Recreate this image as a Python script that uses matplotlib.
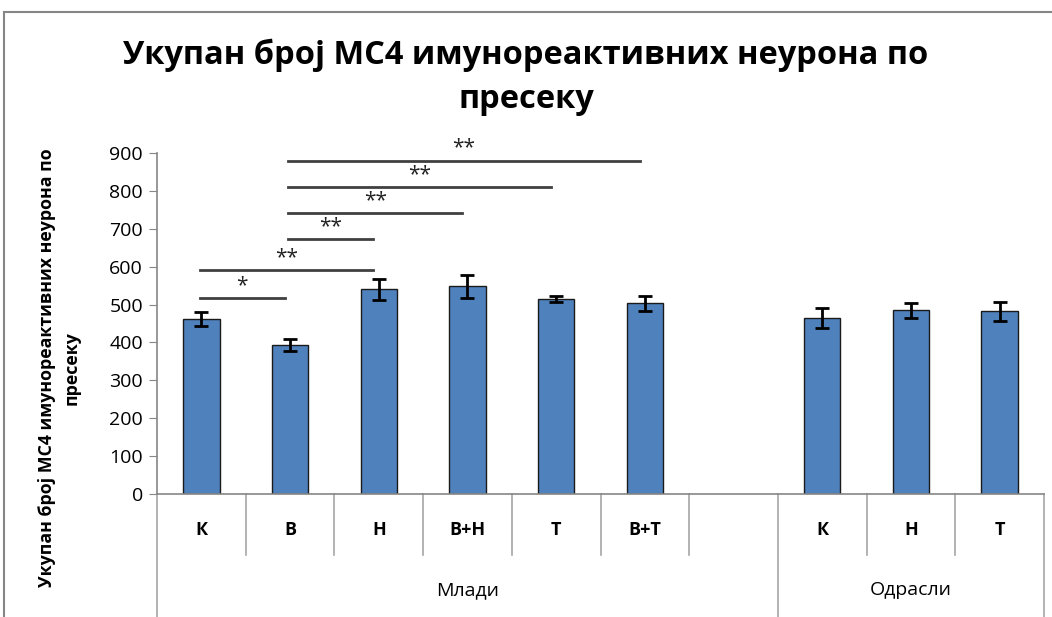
import matplotlib
matplotlib.use("Agg")
import matplotlib.pyplot as plt
from matplotlib.lines import Line2D
from matplotlib.transforms import blended_transform_factory

plt.rcParams['font.family'] = ['Open Sans', 'DejaVu Sans']

# подаци
categories = ["К", "В", "Н", "В+Н", "Т", "В+Т", "", "К", "Н", "Т"]
values = [462, 393, 540, 548, 515, 503, None, 465, 485, 482]
errors = [18, 15, 27, 30, 8, 20, None, 27, 20, 25]
groups = ["Млади", "Одрасли"]
group_spans = [(0, 6), (7, 9)]
# significance: (from, to, height, label)
sig_pairs = [(0, 1, 517, "*"), (0, 2, 591, "**"), (1, 2, 673, "**"),
             (1, 3, 741, "**"), (1, 4, 810, "**"), (1, 5, 879, "**")]
yticks = list(range(0, 901, 100))

W, H = 1052, 617
fig = plt.figure(figsize=(W / 100, H / 100), dpi=100)

# outer chart border
fig.add_artist(Line2D([4 / W, 4 / W], [0, 1 - 12 / H], color="#868686", lw=1.5))
fig.add_artist(Line2D([4 / W, 1], [1 - 12 / H, 1 - 12 / H], color="#868686", lw=1.5))

x0, x1, y0, y1 = 157, 1044, 494, 153
ax = fig.add_axes([x0 / W, 1 - y0 / H, (x1 - x0) / W, (y0 - y1) / H])

xs = [i for i, v in enumerate(values) if v is not None]
vs = [v for v in values if v is not None]
es = [e for e in errors if e is not None]
ax.bar(xs, vs, width=0.41, color="#4F81BD", edgecolor="#1a1a1a", linewidth=1, zorder=2)
ax.errorbar(xs, vs, yerr=es, fmt="none", ecolor="black", elinewidth=2,
            capsize=5, capthick=2, zorder=3)

ax.set_xlim(-0.5, len(categories) - 0.5)
ax.set_ylim(0, 900)
ax.set_yticks(yticks)
ax.tick_params(axis="y", direction="out", length=6, color="#868686", labelsize=14, pad=4)
ax.set_xticks([])
for s in ["top", "right"]:
    ax.spines[s].set_visible(False)
for s in ["left", "bottom"]:
    ax.spines[s].set_color("#868686")
    ax.spines[s].set_linewidth(1.2)

# significance bars
for a, b, h, lab in sig_pairs:
    ax.plot([a - 0.02, b - 0.06], [h, h], color="#404040", lw=2, zorder=4, clip_on=False)
    ax.text((a + b) / 2 - 0.04, h + 6, lab, ha="center", va="bottom", fontsize=15,
            color="#222222", clip_on=False)

# category axis with group labels
tr = blended_transform_factory(ax.transData, fig.transFigure)
cat_bottom = 1 - 555 / H
for i, c in enumerate(categories):
    ax.text(i, 1 - 530 / H, c, transform=tr, ha="center", va="center",
            fontsize=13, fontweight="bold")
for i in range(len(categories) + 1):
    xb = i - 0.5
    is_group_edge = xb in (-0.5, 6.5, 9.5)
    ybot = 0 if is_group_edge else cat_bottom
    ax.add_artist(Line2D([xb, xb], [1 - y0 / H, ybot], transform=tr,
                         color="#a6a6a6", lw=1.2, clip_on=False))
for g, (a, b) in zip(groups, group_spans):
    ax.text((a + b) / 2, 1 - 590 / H, g, transform=tr, ha="center", va="center",
            fontsize=14)

fig.text(0.5, 1 - 55 / H, "Укупан број МС4 имунореактивних неурона по",
         ha="center", va="center", fontsize=23.5, fontweight="bold")
fig.text(0.5, 1 - 100 / H, "пресеку", ha="center", va="center",
         fontsize=23.5, fontweight="bold")

fig.text(47 / W, 1 - 368 / H, "Укупан број МС4 имунореактивних неурона по",
         rotation=90, ha="center", va="center", fontsize=12.8, fontweight="bold")
fig.text(72 / W, 1 - 368 / H, "пресеку", rotation=90, ha="center", va="center",
         fontsize=12.8, fontweight="bold")

fig.savefig("out.png", dpi=100)
